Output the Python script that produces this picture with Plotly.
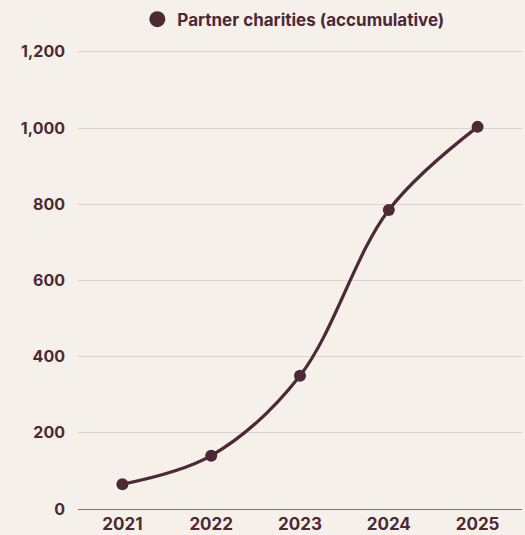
import plotly.graph_objects as go

years = ["2021", "2022", "2023", "2024", "2025"]
charities = [65, 140, 350, 785, 1003]
y_ticks = [0, 200, 400, 600, 800, 1000, 1200]
series_name = "Partner charities (accumulative)"

ink = "#4D2835"
paper = "#F5F1EA"
grid = "#DDD3CE"

fig = go.Figure()
fig.add_trace(go.Scatter(
    x=years, y=charities, mode="lines+markers",
    line=dict(color=ink, width=3.2, shape="spline", smoothing=1.0),
    marker=dict(color=ink, size=12),
    showlegend=False, hoverinfo="x+y",
))
# legend entry: dot only
fig.add_trace(go.Scatter(
    x=[None], y=[None], mode="markers", name=series_name,
    marker=dict(color=ink, size=17),
))

fig.update_layout(
    width=525, height=535,
    paper_bgcolor=paper, plot_bgcolor=paper,
    margin=dict(l=78, r=3, t=48, b=26, autoexpand=False),
    font=dict(family="Inter, sans-serif", color=ink, size=16),
    legend=dict(orientation="h", x=0.485, xanchor="center", y=0.997, yanchor="top",
                yref="container", font=dict(size=17, weight="bold"),
                itemwidth=30, bgcolor="rgba(0,0,0,0)"),
    xaxis=dict(type="category", range=[-0.5, 4.5], showgrid=False, automargin=False,
               showline=False, zeroline=False, ticks="", ticklabelstandoff=3,
               tickfont=dict(size=17, weight="bold", color=ink)),
    yaxis=dict(range=[0, 1210], tickvals=y_ticks, tickformat=",", automargin=False,
               showgrid=True, gridcolor=grid, gridwidth=1,
               zeroline=True, zerolinecolor="#8E7077", zerolinewidth=1,
               showline=False, ticks="", ticklabelstandoff=12,
               tickfont=dict(size=16, weight="bold", color=ink)),
)

fig.write_html("out.html")
